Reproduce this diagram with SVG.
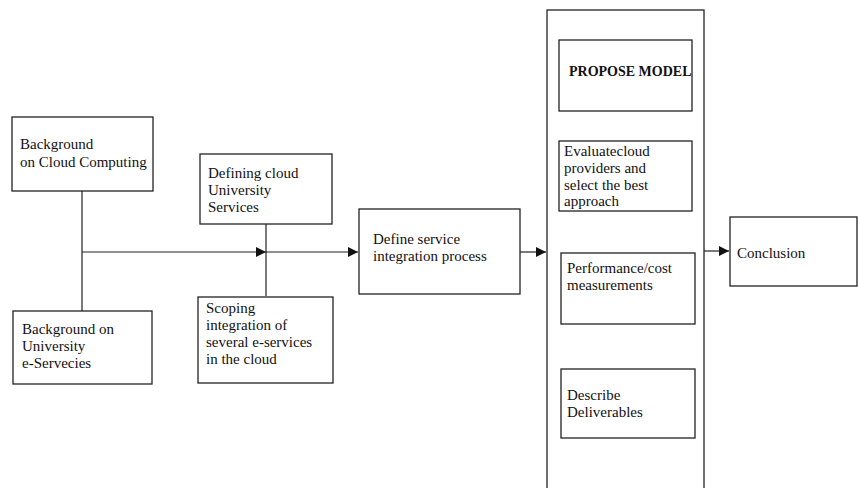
<svg xmlns="http://www.w3.org/2000/svg" width="858" height="488" viewBox="0 0 858 488">
<defs>
<style>
.box{fill:#fff;stroke:#222;stroke-width:1.3}
.ln{fill:none;stroke:#222;stroke-width:1.2}
text{font-family:"Liberation Serif","Times New Roman",serif;font-size:15px;fill:#111}
.b{font-weight:bold;font-size:14px}
</style>
<marker id="ah" viewBox="0 0 10 10" refX="10" refY="5" markerWidth="10" markerHeight="10" markerUnits="userSpaceOnUse" orient="auto">
<path d="M0,0 L10,5 L0,10 z" fill="#111"/>
</marker>
</defs>
<rect width="858" height="488" fill="#fff"/>
<g id="connectors">
<line class="ln" x1="82" y1="191" x2="82" y2="311"/>
<line class="ln" x1="266" y1="224" x2="266" y2="296"/>
<line class="ln" x1="82" y1="252" x2="266" y2="252" marker-end="url(#ah)"/>
<line class="ln" x1="266" y1="252" x2="358" y2="252" marker-end="url(#ah)"/>
<line class="ln" x1="520" y1="252" x2="546" y2="252" marker-end="url(#ah)"/>
<line class="ln" x1="704" y1="251" x2="729" y2="251" marker-end="url(#ah)"/>
</g>
<g id="bg-cloud">
<rect class="box" x="12" y="117" width="141" height="74"/>
<text x="20" y="149">Background</text>
<text x="20" y="167">on Cloud Computing</text>
</g>
<g id="bg-univ">
<rect class="box" x="13" y="311" width="139" height="73"/>
<text x="22" y="334">Background on</text>
<text x="22" y="351">University</text>
<text x="22" y="368">e-Servecies</text>
</g>
<g id="defining">
<rect class="box" x="200" y="154" width="132" height="70"/>
<text x="208" y="178">Defining cloud</text>
<text x="208" y="195">University</text>
<text x="208" y="212">Services</text>
</g>
<g id="scoping">
<rect class="box" x="198" y="297" width="135" height="86"/>
<text x="206" y="313">Scoping</text>
<text x="206" y="330">integration of</text>
<text x="206" y="347">several e-services</text>
<text x="206" y="364">in the cloud</text>
</g>
<g id="define-service">
<rect class="box" x="359" y="209" width="161" height="85"/>
<text x="373" y="244">Define service</text>
<text x="373" y="261">integration process</text>
</g>
<g id="propose-container">
<rect class="box" x="547" y="10" width="157" height="490"/>
</g>
<g id="propose-model">
<rect class="box" x="559" y="40" width="133" height="71"/>
<text class="b" x="569" y="76">PROPOSE MODEL</text>
</g>
<g id="evaluate">
<rect class="box" x="559" y="141" width="133" height="70"/>
<text x="564" y="156">Evaluatecloud</text>
<text x="564" y="173">providers and</text>
<text x="564" y="190">select the best</text>
<text x="564" y="206">approach</text>
</g>
<g id="performance">
<rect class="box" x="561" y="253" width="134" height="71"/>
<text x="567" y="273">Performance/cost</text>
<text x="567" y="290">measurements</text>
</g>
<g id="describe">
<rect class="box" x="561" y="369" width="134" height="69"/>
<text x="567" y="400">Describe</text>
<text x="567" y="417">Deliverables</text>
</g>
<g id="conclusion">
<rect class="box" x="730" y="217" width="127" height="69"/>
<text x="737" y="258">Conclusion</text>
</g>
</svg>
